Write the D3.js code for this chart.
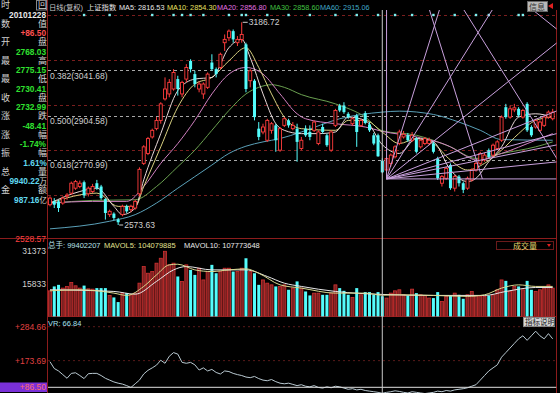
<!DOCTYPE html>
<html><head><meta charset="utf-8">
<script src="https://cdn.jsdelivr.net/npm/d3@7"></script>
<style>
body{margin:0;background:#000;overflow:hidden}
svg{display:block}
text{font-family:"Liberation Sans","Noto Sans CJK SC",sans-serif}
</style></head>
<body><svg id="c" width="560" height="393"></svg>
<script>
// ---------------- DATA ----------------
const openP = [2635,2645,2645,2640,2662,2670,2685,2690,2703,2668,2675,2700,2690,2652,2605,2608,2590,2605,2630,2620,2625,2668,2760,2790,2840,2865,2890,2955,2970,2985,3015,2970,3015,3070,3030,2985,2970,2990,3065,3045,3050,3125,3140,3160,3125,3135,3120,3010,3010,2865,2855,2830,2860,2875,2800,2875,2890,2865,2865,2805,
2865,2855,2860,2820,2870,2845,2800,2875,2935,2935,2910,2880,2905,2875,2912,2878,2845,2845,2768.03,2740,2760,2780,2820,2840,2845,2830,2835,2810,2820,2820,2820,2775,2700,2715,2755,2685,2720,2700,2685,2710,2740,2760,2770,2800,2785,2805,2830,2930,2900,2922,2925,2900,2940,2870,2870,2860,2875,2900,2895];
const highP = [2660,2655,2650,2660,2670,2705,2710,2708,2708,2690,2698,2710,2695,2655,2620,2612,2595,2635,2635,2635,2650,2748,2815,2840,2865,2900,2945,3020,3015,3045,3025,3010,3060,3075,3040,3008,3005,3035,3090,3050,3095,3150,3165,3165,3145,3186.72,3125,3045,3015,2885,2880,2895,2885,2880,2870,2900,2895,2885,2880,2840,
2875,2875,2890,2860,2880,2850,2860,2925,2940,2945,2915,2900,2910,2895,2918,2885,2852,2850,2775.15,2780,2790,2815,2862,2858,2852,2855,2840,2835,2840,2838,2825,2780,2725,2750,2760,2725,2725,2705,2720,2745,2765,2795,2792,2805,2820,2830,2905,2940,2935,2940,2930,2925,2945,2875,2895,2890,2905,2920,2925];
const lowP = [2630,2625,2613,2635,2650,2665,2680,2685,2655,2660,2670,2680,2650,2590,2598,2588,2573.63,2600,2610,2612,2620,2660,2755,2785,2835,2860,2880,2950,2960,2980,2965,2960,3005,3035,2990,2975,2955,2985,3040,3020,3045,3100,3130,3125,3115,3125,2975,2990,2890,2830,2848,2825,2850,2795,2795,2870,2868,2860,2765,2800,
2840,2830,2855,2815,2850,2810,2795,2870,2915,2910,2895,2875,2810,2870,2878,2855,2815,2780,2730.41,2713,2750,2775,2815,2835,2825,2825,2790,2805,2815,2815,2790,2710,2690,2710,2680,2675,2690,2670,2680,2705,2735,2755,2765,2775,2780,2800,2825,2895,2895,2915,2900,2895,2855,2840,2865,2855,2870,2895,2890];
const closeP = [2655,2635,2625,2655,2664,2700,2705,2700,2663,2685,2690,2685,2655,2610,2615,2595,2582,2630,2615,2630,2645,2742,2810,2835,2860,2890,2940,2985,3005,3035,2985,3005,3050,3045,3000,3000,3000,3030,3045,3030,3090,3135,3160,3135,3135,3150,2985,3040,2900,2840,2870,2890,2880,2830,2865,2895,2875,2875,2825,2830,
2845,2840,2885,2855,2855,2815,2855,2920,2920,2915,2900,2895,2855,2890,2882,2860,2820,2781.40,2732.99,2775,2785,2810,2855,2848,2830,2845,2795,2830,2835,2830,2795,2715,2720,2745,2685,2720,2700,2680,2715,2740,2760,2790,2785,2780,2815,2825,2900,2900,2925,2928,2905,2920,2860,2845,2890,2885,2900,2915,2915];
// volume in 万手
const volume = [12500,14600,15350,13800,14600,16500,14900,13800,15000,13450,13300,13800,13800,13800,10300,9350,7130,11400,11400,10600,11400,16160,24100,20900,21700,25700,28050,31373,24900,25700,19350,16970,24900,22500,20100,23300,17700,21700,24900,20900,21700,23300,23300,21700,21700,23300,28050,21700,20900,15350,17700,16160,15350,14600,14600,15350,13000,13800,17000,13800,
12200,10300,11400,11400,10600,10600,11400,15350,13800,12500,10600,9350,13800,10600,11900,11900,10600,11900,9940.22,9030,11400,12500,13000,10600,10300,13300,11400,10600,10300,9030,9030,11900,7460,9840,10300,11400,10600,8700,10600,12200,10300,9840,9840,10300,10600,13000,17700,17250,12200,14600,14600,13000,17250,13000,12200,13000,13800,15350,13800];
const vrValues = [170,148,140,128,116,132,134,125,115,131,132,132,125,116,110,104,100,97,92,86,98,110,130,142,150,159,175,165,188,200,195,168,165,168,160,143,150,140,145,135,130,140,138,132,128,125,120,118,122,115,110,108,112,105,100,98,100,96,92,95,90,88,92,86,84,88,85,90,88,84,80,82,78,80,76,74,72,70,67,70,72,75,73,70,68,72,70,68,66,68,70,74,72,76,74,78,80,82,85,90,95,110,125,140,150,160,185,200,215,230,245,255,240,255,270,255,245,262,245];
// moving averages: [bar index, value]
const ma5 = [[0,2640],[7,2675],[11,2685],[15,2630],[17,2605],[20,2625],[22,2710],[26,2850],[30,2980],[34,3015],[38,3020],[42,3110],[45,3135],[47,3080],[50,2970],[53,2880],[55,2860],[59,2850],[63,2850],[67,2855],[70,2900],[74,2890],[78,2816.53],[82,2790],[86,2835],[90,2825],[94,2740],[98,2705],[100,2715],[103,2765],[106,2810],[110,2900],[114,2910],[118,2900]];
const ma10 = [[0,2640],[11,2670],[16,2630],[20,2630],[22,2690],[26,2810],[30,2930],[34,3000],[38,3020],[42,3070],[46,3110],[49,3050],[52,2970],[55,2900],[59,2865],[67,2860],[70,2890],[74,2890],[78,2854.30],[82,2820],[86,2835],[90,2820],[94,2770],[98,2740],[102,2760],[106,2800],[110,2850],[114,2890],[118,2900]];
const ma20 = [[0,2640],[10,2645],[18,2645],[22,2690],[26,2760],[30,2820],[34,2890],[38,2970],[42,3030],[46,3050],[50,3030],[54,2970],[58,2910],[60,2895],[67,2880],[74,2870],[78,2856.80],[86,2840],[94,2810],[98,2780],[100,2770],[106,2790],[114,2830],[118,2850]];
const ma30 = [[0,2640],[10,2648],[20,2650],[25,2690],[30,2750],[34,2800],[38,2860],[42,2920],[46,2970],[49,2990],[52,2998],[55,2990],[59,2968],[67,2940],[74,2900],[78,2858.60],[86,2845],[94,2810],[100,2775],[106,2790],[114,2810],[118,2825]];
const ma60 = [[0,2562],[14,2585],[20,2605],[25,2640],[30,2685],[34,2720],[38,2755],[42,2790],[46,2812],[50,2825],[54,2835],[59,2855],[68,2895],[78,2915.06],[82,2918],[90,2908],[96,2885],[101,2860],[106,2832],[118,2830]];
const mavol5 = [[0,12500],[7,13000],[15,11400],[18,10300],[22,14600],[25,20100],[28,24900],[30,25200],[34,22500],[38,21700],[42,22500],[46,23000],[49,20900],[54,15350],[59,13800],[67,11400],[74,11400],[78,10407.99],[82,10600],[90,10300],[98,9840],[102,10600],[106,13800],[110,15350],[114,14600],[118,14600]];
const mavol10 = [[0,13000],[15,12200],[20,10900],[25,17000],[29,22500],[32,24100],[38,22500],[46,22500],[51,19350],[55,16160],[59,14600],[67,12200],[78,10777.36],[90,10300],[102,10300],[107,12200],[114,14100],[118,14100]];
const goldenLevels = [{r:"0.382",p:3041.68},{r:"0.500",p:2904.58},{r:"0.618",p:2770.99}];
const gridPrices = [3208.8,3072.0,2936.4,2800.8,2665.2];
const markerBars = [8,14,24,29,31,33,36,42,45,46,51,56,61,67,72,77,81,85,90,95,100,103,110,111];
const cursorBar = 78;
const fanUp = {i:79,p:2713,unit:10.3,ratios:[4,2,1,1/2,1/3,1/4,1/8]};
const fanDown = {i:81,p:3557,unit:10.3,ratios:[4,2,1]};
const headerItems = [
  {t:"日线(复权)",c:"#c8c8c8"},{t:"上证指数",c:"#e8e8e8"},{t:"MA5: 2816.53",c:"#e8e8e8"},
  {t:"MA10: 2854.30",c:"#e8e060"},{t:"MA20: 2856.80",c:"#e070e0"},{t:"MA30: 2858.60",c:"#40c040"},{t:"MA60: 2915.06",c:"#40a8c8"}];
const headerX = [49,87,119,167,217,270,320];
const infoLeft = ["时","","数","","开","","最","","最","","收","","涨","","涨","","振","","总","","金",""];
const infoRight = ["回","","值","","盘","","高","","低","","盘","","跌","","幅","","幅","","量","","额",""];
const infoVals = [
  [1,"20101228","#e8e8e8"],[3,"+86.50","#ff5050"],[5,"2768.03","#30e030"],[7,"2775.15","#30e030"],
  [9,"2730.41","#30e030"],[11,"2732.99","#30e030"],[13,"-48.41","#30e030"],[15,"-1.74%","#30e030"],
  [17,"1.61","#60d8f0"],[19,"9940.22","#60d8f0"],[21,"987.16","#60d8f0"]];
const infoUnits = [[17,"%"],[19,"万"],[21,"亿"]];
const volHeader = [{t:"总手: 99402207",c:"#b8e0e8",x:48},{t:"MAVOL5: 104079885",c:"#e0e090",x:104},{t:"MAVOL10: 107773648",c:"#e8e8e8",x:184}];
const volTicks = [31373,15833];
const vrTicks = [284.66,173.69];
const cursorVR = 86.50;

// ---------------- DRAW ----------------
const svg = d3.select("#c");
svg.append("rect").attr("width",560).attr("height",393).attr("fill","#000");
const N = openP.length;
const x = d3.scaleLinear().domain([0,N-1]).range([50,552.7]);
const yP = d3.scaleLinear().domain([2573.63,3186.72]).range([225,22.3]);
const yV = d3.scaleLinear().domain([0,31373]).range([317,251.3]);
const yR = d3.scaleLinear().domain([86.5,284.66]).range([387.3,326.7]);
const PL=48, PR=556.5;
const defs = svg.append("defs");
defs.append("clipPath").attr("id","cm").append("rect").attr("x",PL).attr("y",10).attr("width",PR-PL).attr("height",228.5);
defs.append("clipPath").attr("id","cv").append("rect").attr("x",PL).attr("y",239).attr("width",PR-PL).attr("height",77.5);
defs.append("clipPath").attr("id","cr").append("rect").attr("x",PL).attr("y",317).attr("width",PR-PL).attr("height",76);
const UP="#ff3c3c", DN="#54fcfc", BORDER="#8c1c1c";

// borders
svg.append("line").attr("x1",47.5).attr("x2",47.5).attr("y1",0).attr("y2",393).attr("stroke",BORDER);
svg.append("line").attr("x1",PR).attr("x2",PR).attr("y1",10).attr("y2",393).attr("stroke",BORDER);
svg.append("line").attr("x1",0).attr("x2",PR).attr("y1",238.5).attr("y2",238.5).attr("stroke",BORDER);
svg.append("line").attr("x1",47.5).attr("x2",PR).attr("y1",316.5).attr("y2",316.5).attr("stroke",BORDER);

const gm = svg.append("g").attr("clip-path","url(#cm)");
// grid
gm.selectAll(".grid").data(gridPrices).join("line").attr("x1",PL).attr("x2",PR)
  .attr("y1",d=>Math.round(yP(d))+0.5).attr("y2",d=>Math.round(yP(d))+0.5)
  .attr("stroke","#7a1e1e").attr("stroke-dasharray","3,3");
gm.selectAll(".gold").data(goldenLevels).join("line").attr("x1",PL).attr("x2",PR)
  .attr("y1",d=>Math.round(yP(d.p))+0.5).attr("y2",d=>Math.round(yP(d.p))+0.5)
  .attr("stroke","#a8a8a8").attr("stroke-dasharray","3,3");
gm.selectAll(".goldt").data(goldenLevels).join("text").attr("x",50).attr("y",d=>yP(d.p)+8.5)
  .attr("font-size",8.5).attr("fill","#d0d0d0").text(d=>d.r+"("+d.p.toFixed(2)+")");
// markers
gm.selectAll(".mk").data(markerBars).join("rect").attr("x",d=>x(d)-1.2).attr("y",yP(gridPrices[0])-1.2)
  .attr("width",2.4).attr("height",2.4).attr("fill","#7ff0f0");

// MA lines
const lineP = d3.line().x(d=>x(d[0])).y(d=>yP(d[1])).curve(d3.curveMonotoneX);
[[ma60,"#5aa0b8"],[ma30,"#6aa050"],[ma20,"#d080c0"],[ma10,"#d8d080"],[ma5,"#e8d8d8"]].forEach(([d,c])=>{
  gm.append("path").attr("d",lineP(d)).attr("fill","none").attr("stroke",c).attr("stroke-width",1);
});

// candles
const idx = d3.range(N);
const cg = gm.append("g");
cg.selectAll(".wick").data(idx).join("line")
  .attr("x1",i=>x(i)).attr("x2",i=>x(i)).attr("y1",i=>yP(highP[i])).attr("y2",i=>yP(lowP[i]))
  .attr("stroke",i=>closeP[i]>=openP[i]?UP:DN);
cg.selectAll(".body").data(idx).join("rect")
  .attr("x",i=>x(i)-1.5).attr("width",3)
  .attr("y",i=>yP(Math.max(openP[i],closeP[i])))
  .attr("height",i=>Math.max(1,Math.abs(yP(openP[i])-yP(closeP[i]))))
  .attr("fill",i=>closeP[i]>=openP[i]?"#000":DN)
  .attr("stroke",i=>closeP[i]>=openP[i]?UP:"none").attr("stroke-width",0.9);

// extreme labels
const hiI = d3.maxIndex(highP), loI = d3.minIndex(lowP);
gm.append("line").attr("x1",x(hiI)+1).attr("x2",x(hiI)+6).attr("y1",yP(highP[hiI])).attr("y2",yP(highP[hiI])).attr("stroke","#ccc");
gm.append("text").attr("x",x(hiI)+7).attr("y",yP(highP[hiI])+3).attr("font-size",8.5).attr("fill","#d0d0d0").text(highP[hiI].toFixed(2));
gm.append("line").attr("x1",x(loI)+1).attr("x2",x(loI)+5).attr("y1",yP(lowP[loI])).attr("y2",yP(lowP[loI])).attr("stroke","#ccc");
gm.append("text").attr("x",x(loI)+6).attr("y",yP(lowP[loI])+3).attr("font-size",8.5).attr("fill","#d0d0d0").text(lowP[loI].toFixed(2));

// drawing objects (Gann fans)
const FAN="#c8a0dc";
gm.append("line").attr("x1",x(fanUp.i)).attr("x2",x(fanUp.i)).attr("y1",10).attr("y2",yP(fanUp.p)).attr("stroke",FAN);
gm.append("line").attr("x1",x(fanUp.i)).attr("x2",PR).attr("y1",yP(fanUp.p)).attr("y2",yP(fanUp.p)).attr("stroke",FAN);
fanUp.ratios.forEach(r=>{
  const i2 = fanUp.i+60; 
  gm.append("line").attr("x1",x(fanUp.i)).attr("y1",yP(fanUp.p))
    .attr("x2",x(i2)).attr("y2",yP(fanUp.p+r*fanUp.unit*60)).attr("stroke",FAN);
});
fanDown.ratios.forEach(r=>{
  const iEnd = fanDown.i + (fanDown.p-fanUp.p)/(r*fanDown.unit);
  gm.append("line").attr("x1",x(fanDown.i)).attr("y1",yP(fanDown.p))
    .attr("x2",x(iEnd)).attr("y2",yP(fanUp.p)).attr("stroke",FAN);
});

// header
const hg = svg.append("g");
headerItems.forEach((h,k)=>{
  hg.append("text").attr("x",headerX[k]).attr("y",10).attr("font-size",7.3).attr("fill",h.c).text(h.t);
});
// info box at top right
svg.append("rect").attr("x",527.5).attr("y",1.5).attr("width",20).attr("height",10).attr("fill","#b8b8b8").attr("stroke","#666");
svg.append("text").attr("x",529).attr("y",9.5).attr("font-size",8).attr("fill","#333").text("信息");
svg.append("path").attr("d","M548,6 l5,-3 l0,6 z").attr("fill","#e02020");

// left info window
const rowY = k=>5+9.25*k;
infoLeft.forEach((t,k)=>{ if(t) svg.append("text").attr("x",1).attr("y",rowY(k)+3.3).attr("font-size",9).attr("fill","#d0d0d0").text(t); });
infoRight.forEach((t,k)=>{ if(t) svg.append("text").attr("x",38).attr("y",rowY(k)+3.3).attr("font-size",9).attr("fill","#d8d8d8").text(t); });
svg.append("rect").attr("x",36.5).attr("y",0.5).attr("width",10).attr("height",9.5).attr("fill","none").attr("stroke","#888");
infoVals.forEach(([k,t,c])=>{
  const hasUnit = infoUnits.some(u=>u[0]===k);
  svg.append("text").attr("x",hasUnit?39.5:46).attr("y",rowY(k)+3.4).attr("text-anchor","end")
    .attr("font-size",8.3).attr("font-weight","bold").attr("fill",c).text(t);
});
infoUnits.forEach(([k,t])=>{
  svg.append("text").attr("x",39.5).attr("y",rowY(k)+3.4).attr("font-size",t==="%"?8.3:7.5).attr("font-weight",t==="%"?"bold":"normal").attr("fill",t==="%"?"#60d8f0":"#d8d8d8").text(t);
});
svg.append("text").attr("x",46).attr("y",242).attr("text-anchor","end").attr("font-size",8.5).attr("fill","#ff4040").text("2528.57");

// volume panel
const gv = svg.append("g").attr("clip-path","url(#cv)");
gv.selectAll(".vb").data(idx).join("rect")
  .attr("x",i=>x(i)-1.5).attr("width",3).attr("y",i=>yV(volume[i])).attr("height",i=>yV(0)-yV(volume[i]))
  .attr("fill",i=>closeP[i]>=openP[i]?"#7a2222":DN)
  .attr("stroke",i=>closeP[i]>=openP[i]?"#d03030":"none").attr("stroke-width",0.8);
const lineV = d3.line().x(d=>x(d[0])).y(d=>yV(d[1])).curve(d3.curveMonotoneX);
gv.append("path").attr("d",lineV(mavol10)).attr("fill","none").attr("stroke","#e8e8e8");
gv.append("path").attr("d",lineV(mavol5)).attr("fill","none").attr("stroke","#d8d890");
volHeader.forEach(h=>svg.append("text").attr("x",h.x).attr("y",248).attr("font-size",7.5).attr("fill",h.c).text(h.t));
volTicks.forEach(v=>svg.append("text").attr("x",46).attr("y",yV(v)+3).attr("text-anchor","end").attr("font-size",8.5).attr("fill","#d0d0d0").text(v));
svg.append("rect").attr("x",496.5).attr("y",241.5).attr("width",57).attr("height",8).attr("fill","#000").attr("stroke","#6a1a1a");
svg.append("text").attr("x",513).attr("y",248.5).attr("font-size",8).attr("fill","#e8d870").text("成交量");
svg.append("path").attr("d","M547,244 l4,0 l-2,3 z").attr("fill","#e02020");

// VR panel
const gr = svg.append("g").attr("clip-path","url(#cr)");
gr.selectAll(".vrg").data(vrTicks).join("line").attr("x1",PL).attr("x2",PR)
  .attr("y1",d=>yR(d)).attr("y2",d=>yR(d)).attr("stroke","#5a1a1a").attr("stroke-dasharray","2,3");
gr.append("path").attr("d",d3.line().x((d,i)=>x(i)).y(d=>yR(d))(vrValues)).attr("fill","none").attr("stroke","#b8c8d0");
gr.append("line").attr("x1",PL).attr("x2",PR).attr("y1",yR(cursorVR)).attr("y2",yR(cursorVR)).attr("stroke","#e0e0e0");
svg.append("text").attr("x",48).attr("y",325.5).attr("font-size",7.5).attr("fill","#a8e0f0").text("VR: 66.84");
vrTicks.forEach(v=>svg.append("text").attr("x",46).attr("y",yR(v)+3).attr("text-anchor","end").attr("font-size",8.5).attr("fill","#e04040").text("+"+v.toFixed(2)));
svg.append("rect").attr("x",0).attr("y",382.5).attr("width",47).attr("height",9.5).attr("fill","#7a30d8");
svg.append("text").attr("x",46).attr("y",yR(cursorVR)+3).attr("text-anchor","end").attr("font-size",8.5).attr("fill","#ff6a6a").text("+"+cursorVR.toFixed(2));
svg.append("rect").attr("x",523.5).attr("y",317.5).attr("width",31).attr("height",9).attr("fill","#d8d8d8").attr("stroke","#888");
svg.append("text").attr("x",525).attr("y",325).attr("font-size",7.5).attr("fill","#222").text("指标说明");

// cursor line
svg.append("line").attr("x1",x(cursorBar)).attr("x2",x(cursorBar)).attr("y1",10).attr("y2",393).attr("stroke","#c8c8c8");
</script></body></html>
